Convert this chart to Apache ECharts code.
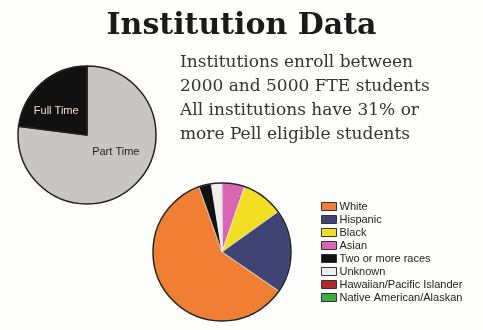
<!DOCTYPE html>
<html>
<head>
<meta charset="utf-8">
<script src="https://cdn.jsdelivr.net/npm/echarts@6/dist/echarts.min.js"></script>
<style>html,body{margin:0;padding:0;background:#fdfdfb;}#c{width:483px;height:330px;}</style>
</head>
<body>
<div id="c"></div>
<script>
const titleText = 'Institution Data';
const noteLines = ['Institutions enroll between', '2000 and 5000 FTE students', 'All institutions have 31% or', 'more Pell eligible students'];

const enrollNames = ['Part Time', 'Full Time'];
const enrollValues = [77, 23];
const enrollColors = ['#c9c5c3', '#111111'];

const raceLegendOrder = ['White', 'Hispanic', 'Black', 'Asian', 'Two or more races', 'Unknown', 'Hawaiian/Pacific Islander', 'Native American/Alaskan'];
const raceNames = ['Asian', 'Black', 'Hispanic', 'White', 'Two or more races', 'Unknown', 'Hawaiian/Pacific Islander', 'Native American/Alaskan'];
const raceValues = [5.3, 9.8, 19.5, 60.0, 2.9, 2.3, 0.1, 0.1];
const raceColors = ['#d965b5', '#f3df22', '#3f4474', '#f07f33', '#111111', '#eeeeee', '#b0292a', '#3fac3f'];

const chart = echarts.init(document.getElementById('c'));
chart.setOption({
  backgroundColor: '#fdfdfb',
  animation: false,
  title: {
    text: titleText, left: 'center', top: 6,
    textStyle: { fontFamily: 'DejaVu Serif', fontWeight: 'bold', fontSize: 30, color: '#1a1a1a' }
  },
  graphic: [{
    type: 'text', left: 180, top: 51,
    style: { text: noteLines.join('\n'), fontFamily: 'DejaVu Serif', fontSize: 17, lineHeight: 24, fill: '#333' }
  }],
  legend: {
    orient: 'vertical', left: 316, top: 196,
    data: raceLegendOrder,
    itemWidth: 15, itemHeight: 8, itemGap: 2,
    icon: 'rect',
    itemStyle: { borderColor: '#333', borderWidth: 1 },
    textStyle: { fontFamily: 'Liberation Sans', fontSize: 11, color: '#222', lineHeight: 10.9, padding: [0, 0, 0, -2] }
  },
  series: [
    {
      type: 'pie', center: [87, 135], radius: 69, startAngle: 90, clockwise: true,
      data: enrollNames.map((n, i) => ({ name: n, value: enrollValues[i], itemStyle: { color: enrollColors[i] },
        label: { color: i === 1 ? '#f3dcd2' : '#222' } })),
      itemStyle: { borderColor: '#222', borderWidth: 1.5 },
      label: { show: true, position: 'inside', fontFamily: 'Liberation Sans', fontSize: 11 },
      labelLayout: function (p) { return p.dataIndex === 0 ? { dx: 4, dy: -11 } : { dx: -6, dy: 4 }; },
      labelLine: { show: false }, silent: true
    },
    {
      type: 'pie', center: [222, 252], radius: 69, startAngle: 90, clockwise: true,
      data: raceNames.map((n, i) => ({ name: n, value: raceValues[i], itemStyle: { color: raceColors[i] } })),
      itemStyle: { borderColor: '#f4f0ec', borderWidth: 0.6 },
      label: { show: false }, labelLine: { show: false }, silent: true
    },
    {
      type: 'pie', center: [222, 252], radius: 69, silent: true, legendHoverLink: false,
      data: [{ name: '_outline', value: 1, itemStyle: { color: 'rgba(0,0,0,0)', borderColor: '#222', borderWidth: 1.5 } }],
      label: { show: false }, labelLine: { show: false }
    }
  ]
});
</script>
</body>
</html>
